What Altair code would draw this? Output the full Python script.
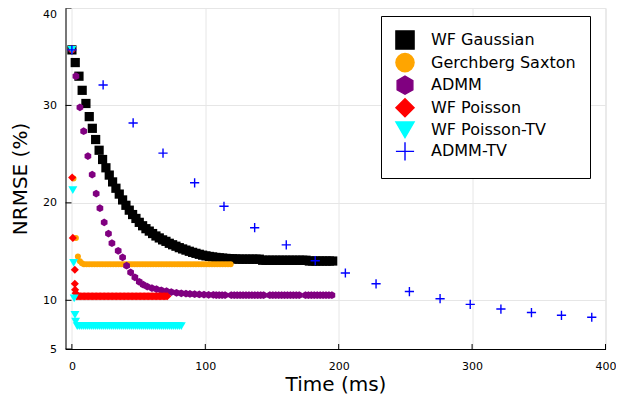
import altair as alt
import pandas as pd

# ---------------- data ----------------
series_names = ["WF Gaussian", "Gerchberg Saxton", "ADMM", "WF Poisson", "WF Poisson-TV", "ADMM-TV"]

gauss_t = [0, 2.5, 5.3, 7.7, 10.5, 13, 15.3, 17.8, 20.4, 23, 25.5, 28, 30.5, 33, 35.5, 38, 40.5, 43, 45.5, 48,
           50.5, 53, 55.5, 58, 60.5, 63, 65.5, 68, 70.5, 73, 75.5, 78, 80.5, 83, 85.5, 88, 90.5, 93, 95.5, 98,
           100.5, 103, 105.5, 108, 110.5, 113, 115.5, 118, 120.5, 123, 125.5, 128, 130.5, 133, 135.5, 138, 140.5,
           143, 145.5, 148, 150.5, 153, 155.5, 158, 160.5, 163, 165.5, 168, 170.5, 173, 175.5,
           178, 180.5, 183, 185.5, 188, 190.5, 193, 195.5]
gauss_v = [35.7, 34.4, 33.0, 31.55, 30.2, 28.85, 27.65, 26.5, 25.4, 24.45, 23.6, 22.85, 22.15, 21.5, 20.9, 20.3,
           19.75, 19.25, 18.8, 18.4, 18.0, 17.65, 17.35, 17.1, 16.85, 16.6, 16.4, 16.2, 16.05, 15.85, 15.7, 15.55,
           15.4, 15.27, 15.15, 15.03, 14.92, 14.82, 14.72, 14.63, 14.56, 14.5, 14.45, 14.4, 14.36, 14.33, 14.3,
           14.28, 14.26, 14.24, 14.22, 14.22, 14.22, 14.22, 14.22, 14.22, 14.22,
           14.11, 14.11, 14.11, 14.11, 14.11, 14.11, 14.11, 14.11, 14.11, 14.11, 14.11, 14.11, 14.11, 14.11,
           14.03, 14.03, 14.03, 14.03, 14.03, 14.03, 14.03, 14.03]

gs_t = [0, 1.2, 3, 4.5, 6, 7.5, 9, 11, 13, 15, 17, 19, 21, 23, 25, 27, 29, 31, 33, 35, 37, 39, 41, 43, 45, 47,
        49, 51, 53, 55, 57, 59, 61, 63, 65, 67, 69, 71, 73, 75, 77, 79, 81, 83, 85, 87, 89, 91, 93, 95, 97, 99,
        101, 103, 105, 107, 109, 111, 113, 115, 117, 119]
gs_v = [35.7, 22.5, 16.4, 14.5, 14.0, 13.8, 13.7, 13.7, 13.7, 13.7, 13.7, 13.7, 13.7, 13.7, 13.7, 13.7, 13.7,
        13.7, 13.7, 13.7, 13.7, 13.7, 13.7, 13.7, 13.7, 13.7, 13.7, 13.7, 13.7, 13.7, 13.7, 13.7, 13.7, 13.7,
        13.7, 13.7, 13.7, 13.7, 13.7, 13.7, 13.7, 13.7, 13.7, 13.7, 13.7, 13.7, 13.7, 13.7, 13.7, 13.7, 13.7,
        13.7, 13.7, 13.7, 13.7, 13.7, 13.7, 13.7, 13.7, 13.7, 13.7, 13.7]

admm_t = [0, 3, 6, 8.8, 12, 15.2, 18.2, 21, 24.2, 27.4, 30, 34.7, 38, 41, 44, 47.2, 50.5, 53.5, 56.5, 60,
          63.4, 67, 70.9, 74.5, 78.4, 82, 85.5, 88.5, 92, 95.5, 99, 102.5,
          106, 108.2, 110.4, 112.6, 114.8,
          119.5, 121.7, 123.9, 126.1, 128.3, 130.5, 132.7, 134.9, 137.1, 139.3, 141.5, 143.7,
          148.4, 150.6, 152.8, 155, 157.2, 159.4, 161.6, 163.8, 166, 168.2, 170.4,
          175.1, 177.3, 179.5, 181.7, 183.9, 186.1, 188.3, 190.5, 192.7, 194.9]
admm_v = [35.7, 33.0, 29.8, 27.35, 24.8, 22.9, 20.95, 19.45, 18.0, 16.84, 15.86, 15.08, 14.4, 13.55, 12.87,
          12.36, 11.9, 11.6, 11.4, 11.25, 11.15, 11.03, 10.94, 10.85, 10.77, 10.72, 10.68, 10.65, 10.62, 10.6,
          10.58, 10.56,
          10.55, 10.54, 10.54, 10.53, 10.53,
          10.53, 10.52, 10.52, 10.52, 10.52, 10.52, 10.52, 10.52, 10.52, 10.52, 10.52, 10.52,
          10.52, 10.52, 10.52, 10.52, 10.52, 10.52, 10.52, 10.52, 10.52, 10.52, 10.52,
          10.52, 10.52, 10.52, 10.52, 10.52, 10.52, 10.52, 10.52, 10.52, 10.52]

wfp_t = [0, 0.2, 0.7, 2.2, 2.2, 2.4, 2.8, 3.5, 4.5, 5.5, 6.5, 7.5, 8.5, 9.5, 10.5, 11.5, 12.5, 13.5, 14.5, 15.5,
         16.5, 17.5, 18.5, 19.5, 20.5, 21.5, 22.5, 23.5, 24.5, 25.5, 26.5, 27.5, 28.5, 29.5, 30.5, 31.5, 32.5,
         33.5, 34.5, 35.5, 36.5, 37.5, 38.5, 39.5, 40.5, 41.5, 42.5, 43.5, 44.5, 45.5, 46.5, 47.5, 48.5, 49.5,
         50.5, 51.5, 52.5, 53.5, 54.5, 55.5, 56.5, 57.5, 58.5, 59.5, 60.5, 61.5, 62.5, 63.5, 64.5, 65.5, 66.5,
         67.5, 68.5, 69.5, 70.5, 71.5]
wfp_v = [35.7, 22.6, 16.4, 13.14, 11.7, 11.08, 10.73, 10.42, 10.42, 10.42, 10.42, 10.42, 10.42, 10.42, 10.42,
         10.42, 10.42, 10.42, 10.42, 10.42, 10.42, 10.42, 10.42, 10.42, 10.42, 10.42, 10.42, 10.42, 10.42, 10.42,
         10.42, 10.42, 10.42, 10.42, 10.42, 10.42, 10.42, 10.42, 10.42, 10.42, 10.42, 10.42, 10.42, 10.42, 10.42,
         10.42, 10.42, 10.42, 10.42, 10.42, 10.42, 10.42, 10.42, 10.42, 10.42, 10.42, 10.42, 10.42, 10.42, 10.42,
         10.42, 10.42, 10.42, 10.42, 10.42, 10.42, 10.42, 10.42, 10.42, 10.42, 10.42, 10.42, 10.42, 10.42, 10.42,
         10.42]

tv_t = [0, 0.7, 1.3, 1.7, 2.3, 2.8, 4, 5.5, 7, 8.5, 10, 11.5, 13, 14.5, 16, 17.5, 19, 20.5, 22, 23.5, 25, 26.5,
        28, 29.5, 31, 32.5, 34, 35.5, 37, 38.5, 40, 41.5, 43, 44.5, 46, 47.5, 49, 50.5, 52, 53.5, 55, 56.5, 58,
        59.5, 61, 62.5, 64, 65.5, 67, 68.5, 70, 71.5, 73, 74.5, 76, 77.5, 79, 80.5, 82]
tv_v = [35.7, 21.3, 13.85, 10.2, 8.5, 7.8, 7.35, 7.35, 7.35, 7.35, 7.35, 7.35, 7.35, 7.35, 7.35, 7.35, 7.35,
        7.35, 7.35, 7.35, 7.35, 7.35, 7.35, 7.35, 7.35, 7.35, 7.35, 7.35, 7.35, 7.35, 7.35, 7.35, 7.35, 7.35,
        7.35, 7.35, 7.35, 7.35, 7.35, 7.35, 7.35, 7.35, 7.35, 7.35, 7.35, 7.35, 7.35, 7.35, 7.35, 7.35, 7.35,
        7.35, 7.35, 7.35, 7.35, 7.35, 7.35, 7.35, 7.35]

admmtv_t = [0, 23.4, 45.9, 68.3, 92, 114, 137, 160.7, 182.4, 205, 228, 253, 276, 298.6, 321.6, 344.5, 367, 389.7]
admmtv_v = [35.7, 32.1, 28.2, 25.1, 22.06, 19.65, 17.45, 15.69, 14.06, 12.8, 11.69, 10.9, 10.16, 9.58, 9.1,
            8.74, 8.46, 8.26]

x_ticks = [0, 100, 200, 300, 400]
y_ticks = [5, 10, 20, 30, 40]

# ---------------- styles ----------------
HEX = "M0,-1L0.866,-0.5L0.866,0.5L0,1L-0.866,0.5L-0.866,-0.5Z"
CROSS = "M-1,0L1,0M0,-1L0,1"
series_colors = ["black", "orange", "purple", "red", "cyan", "blue"]
series_shapes = ["square", "circle", HEX, "diamond", "triangle-down", CROSS]
series_sizes = [85, 36, 60, 66, 80, 85]
series_strokew = [0, 0, 0, 0, 0, 1.4]

all_data = [(gauss_t, gauss_v), (gs_t, gs_v), (admm_t, admm_v), (wfp_t, wfp_v), (tv_t, tv_v),
            (admmtv_t, admmtv_v)]
frames = []
for name, (t, v), sz, sw in zip(series_names, all_data, series_sizes, series_strokew):
    f = pd.DataFrame({"t": t, "v": v})
    f["series"] = name
    f["sz"] = sz
    f["sw"] = sw
    frames.append(f)
df = pd.concat(frames, ignore_index=True)
df["idx"] = range(len(df))

FONT = "DejaVu Sans"
W, H = 540, 341

xscale = alt.Scale(domain=[-4.8, 400], nice=False, zero=False)
yscale = alt.Scale(domain=[5, 40], nice=False, zero=False)

legend = alt.Legend(
    title=None, orient="none", legendX=315.5, legendY=8, padding=14,
    strokeColor="black", fillColor="white", cornerRadius=0,
    symbolSize=330, symbolStrokeWidth=1.4, symbolOpacity=1,
    labelFont=FONT, labelFontSize=16, labelColor="black", labelOffset=16,
    labelLimit=400, rowPadding=-1.4,
)

points = alt.Chart(df).mark_point(filled=True, opacity=1).encode(
    x=alt.X("t:Q", scale=xscale, axis=alt.Axis(
        values=x_ticks, grid=True, gridColor="#e6e6e6", ticks=False, tickSize=0,
        domainColor="black", domainWidth=1, labelFont=FONT, labelFontSize=11, labelColor="black",
        labelPadding=11, labelFlush=False, labelOverlap=False,
        title="Time (ms)", titleFont=FONT, titleFontSize=20, titleFontWeight="normal", titleColor="black",
        titleY=41, titleBaseline="alphabetic")),
    y=alt.Y("v:Q", scale=yscale, axis=alt.Axis(
        values=y_ticks, grid=True, gridColor="#e6e6e6", ticks=False, tickSize=0,
        domainColor="black", domainWidth=1, labelFont=FONT, labelFontSize=11, labelColor="black",
        labelPadding=9, labelFlush=False, labelOverlap=False,
        labelOffset={"condition": {"test": "datum.value == 40", "value": 6}, "value": 0},
        title="NRMSE (%)", titleFont=FONT, titleFontSize=20, titleFontWeight="normal", titleColor="black",
        titleAngle=270, titleX=-39, titleY=H / 2, titleAlign="center", titleBaseline="alphabetic")),
    fill=alt.Fill("series:N", scale=alt.Scale(domain=series_names, range=series_colors), legend=legend),
    stroke=alt.Stroke("series:N", scale=alt.Scale(domain=series_names, range=series_colors), legend=legend),
    shape=alt.Shape("series:N", scale=alt.Scale(domain=series_names, range=series_shapes), legend=legend),
    size=alt.Size("sz:Q", scale=None, legend=None),
    strokeWidth=alt.StrokeWidth("sw:Q", scale=None, legend=None),
    order=alt.Order("idx:Q"),
)

ytick_df = pd.DataFrame({"v": y_ticks})
xtick_df = pd.DataFrame({"t": x_ticks})
yticks = alt.Chart(ytick_df).mark_rule(color="black", strokeWidth=1).encode(
    y=alt.Y("v:Q"), x=alt.value(0), x2=alt.value(6))
xticks = alt.Chart(xtick_df).mark_rule(color="black", strokeWidth=1).encode(
    x=alt.X("t:Q"), y=alt.value(H), y2=alt.value(H - 5))

chart = alt.layer(points, yticks, xticks).properties(
    width=W, height=H,
    autosize=alt.AutoSizeParams(type="none"),
    padding={"left": 57.5, "top": 0, "right": 10, "bottom": 46},
).configure_view(stroke=None).configure(font=FONT)

chart.save("out.html", embed_options={"renderer": "svg", "actions": False})
